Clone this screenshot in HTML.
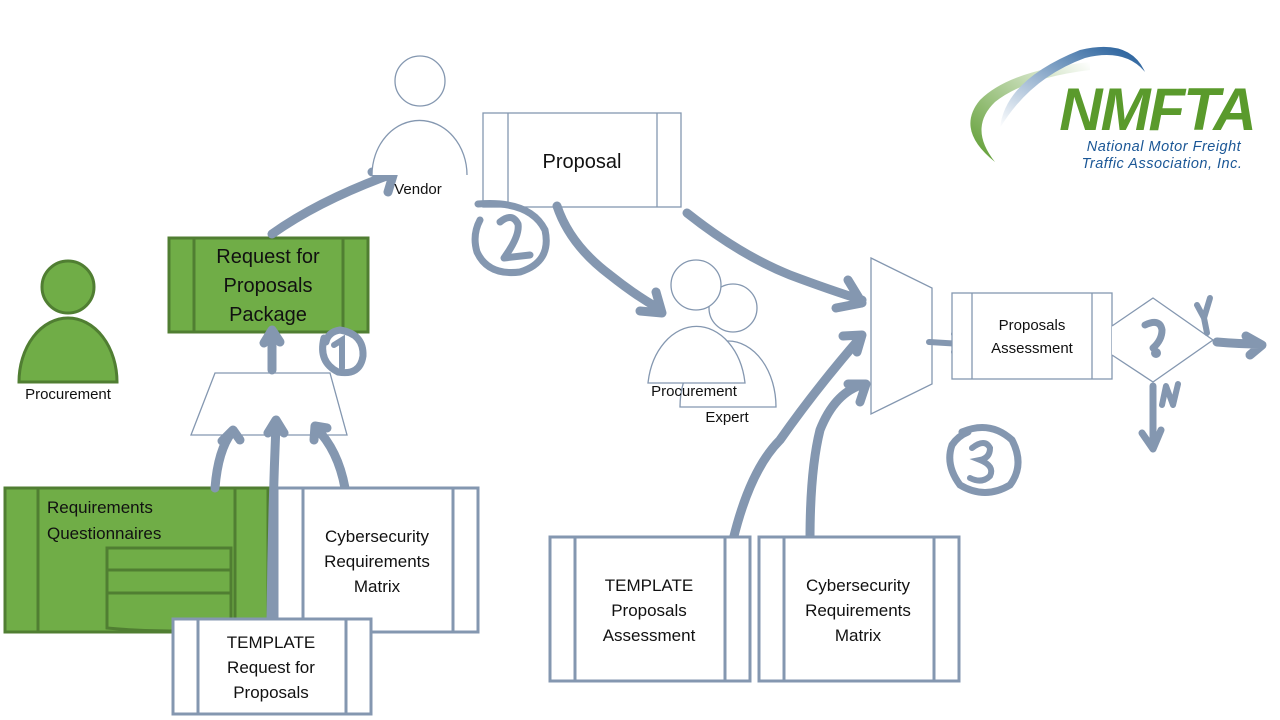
<!DOCTYPE html>
<html><head><meta charset="utf-8"><style>
html,body{margin:0;padding:0;background:#fff;}
svg{display:block;font-family:"Liberation Sans",sans-serif;}
.b{fill:#fff;stroke:#8497b0;stroke-width:1.3}
.bt{fill:#fff;stroke:#8497b0;stroke-width:3}
.g{fill:#70ad47;stroke:#507e32;stroke-width:3}
.a{fill:none;stroke:#8497b0;stroke-width:9;stroke-linecap:round;stroke-linejoin:round}
text{fill:#111;text-anchor:middle}
</style></head><body>
<svg width="1280" height="720" viewBox="0 0 1280 720">
<!-- Procurement person -->
<circle cx="68" cy="287" r="26" class="g"/>
<path d="M19,382 A49,64 0 0 1 117,382 Z" class="g"/>
<text x="68" y="399" font-size="15">Procurement</text>

<!-- RFP package -->
<rect x="169" y="238" width="199" height="94" class="g"/>
<line x1="194" y1="238" x2="194" y2="332" stroke="#507e32" stroke-width="3"/>
<line x1="343" y1="238" x2="343" y2="332" stroke="#507e32" stroke-width="3"/>
<text x="268" y="263" font-size="20">Request for</text>
<text x="268" y="292" font-size="20">Proposals</text>
<text x="268" y="321" font-size="20">Package</text>

<!-- trapezoid -->
<path d="M215,373 L330,373 L347,435 L191,435 Z" class="b"/>

<!-- Requirements questionnaires -->
<rect x="5" y="488" width="263" height="144" class="g"/>
<line x1="38" y1="488" x2="38" y2="632" stroke="#507e32" stroke-width="3"/>
<line x1="235" y1="488" x2="235" y2="632" stroke="#507e32" stroke-width="3"/>
<path d="M107,548 H231 V628 Q170,634 107,628 Z" class="g"/>
<line x1="107" y1="570" x2="231" y2="570" stroke="#507e32" stroke-width="3"/>
<line x1="107" y1="593" x2="231" y2="593" stroke="#507e32" stroke-width="3"/>
<text x="47" y="513" font-size="17" style="text-anchor:start">Requirements</text>
<text x="47" y="539" font-size="17" style="text-anchor:start">Questionnaires</text>

<!-- arrows into trapezoid -->
<path class="a" d="M215,488 Q218,450 232,432 M222,441 L233,430 L240,440"/>
<path class="a" d="M271,620 Q272,520 276,424 M268,433 L276,420 L284,433"/>
<path class="a" d="M345,488 Q338,450 316,428 M314,440 L315,426 L327,428"/>

<!-- Cybersecurity matrix left -->
<rect x="277" y="488" width="201" height="144" class="bt"/>
<line x1="303" y1="488" x2="303" y2="632" stroke="#8497b0" stroke-width="3"/>
<line x1="453" y1="488" x2="453" y2="632" stroke="#8497b0" stroke-width="3"/>
<text x="377" y="542" font-size="17">Cybersecurity</text>
<text x="377" y="567" font-size="17">Requirements</text>
<text x="377" y="592" font-size="17">Matrix</text>

<!-- TEMPLATE RFP -->
<rect x="173" y="619" width="198" height="95" class="bt"/>
<line x1="198" y1="619" x2="198" y2="714" stroke="#8497b0" stroke-width="3"/>
<line x1="346" y1="619" x2="346" y2="714" stroke="#8497b0" stroke-width="3"/>
<text x="271" y="648" font-size="17">TEMPLATE</text>
<text x="271" y="673" font-size="17">Request for</text>
<text x="271" y="698" font-size="17">Proposals</text>

<!-- arrows RFP -->
<path class="a" d="M272,370 L272,332 M264,343 L272,330 L280,342"/>
<path class="a" d="M272,234 Q320,200 392,174 M372,172 L394,172 L388,192"/>
<path d="M324,338 Q318,362 338,372 Q360,376 363,356 Q364,334 340,330 Q328,332 326,342" fill="none" stroke="#8497b0" stroke-width="7" stroke-linecap="round"/>
<path d="M334,345 L342,340 L342,368" fill="none" stroke="#8497b0" stroke-width="6" stroke-linecap="round"/>

<!-- Vendor -->
<circle cx="420" cy="81" r="25" class="b"/>
<path d="M372,175 A47,54 0 0 1 467,175" class="b"/>
<text x="418" y="194" font-size="15">Vendor</text>

<!-- Proposal -->
<rect x="483" y="113" width="198" height="94" class="b"/>
<line x1="508" y1="113" x2="508" y2="207" stroke="#8497b0" stroke-width="1.3"/>
<line x1="657" y1="113" x2="657" y2="207" stroke="#8497b0" stroke-width="1.3"/>
<text x="582" y="168" font-size="20">Proposal</text>

<!-- circled 2 -->
<path d="M478,204 Q530,200 545,230 Q552,262 520,272 Q488,276 477,252 Q472,235 480,220" fill="none" stroke="#8497b0" stroke-width="7" stroke-linecap="round"/>
<path d="M500,222 Q512,212 518,224 Q520,236 504,258 L530,255" fill="none" stroke="#8497b0" stroke-width="7" stroke-linecap="round" stroke-linejoin="round"/>

<!-- Procurement Expert -->
<circle cx="733" cy="308" r="24" class="b"/>
<path d="M680,407 A48,66 0 0 1 776,407 Z" class="b"/>
<circle cx="696" cy="285" r="25" class="b"/>
<path d="M648,383 A49,66 0 0 1 745,383 Z" class="b"/>
<text x="694" y="396" font-size="15">Procurement</text>
<text x="727" y="422" font-size="15">Expert</text>

<path class="a" d="M557,206 Q570,245 610,275 Q635,295 658,308 M640,311 L662,313 L656,292"/>
<path class="a" d="M687,213 Q740,255 790,275 Q830,290 862,300 M836,308 L862,303 L848,280"/>

<path class="a" d="M733,540 Q750,470 780,440 Q815,390 860,338 M843,336 L862,335 L857,352"/>
<path class="a" d="M810,540 Q810,470 820,430 Q835,392 864,384 M848,384 L866,384 L860,402"/>
<rect x="550" y="537" width="200" height="144" class="bt"/>
<line x1="575" y1="537" x2="575" y2="681" stroke="#8497b0" stroke-width="3"/>
<line x1="725" y1="537" x2="725" y2="681" stroke="#8497b0" stroke-width="3"/>
<text x="649" y="591" font-size="17">TEMPLATE</text>
<text x="649" y="616" font-size="17">Proposals</text>
<text x="649" y="641" font-size="17">Assessment</text>
<rect x="759" y="537" width="200" height="144" class="bt"/>
<line x1="784" y1="537" x2="784" y2="681" stroke="#8497b0" stroke-width="3"/>
<line x1="934" y1="537" x2="934" y2="681" stroke="#8497b0" stroke-width="3"/>
<text x="858" y="591" font-size="17">Cybersecurity</text>
<text x="858" y="616" font-size="17">Requirements</text>
<text x="858" y="641" font-size="17">Matrix</text>

<!-- mux -->
<path d="M871,258 L932,288 L932,384 L871,414 Z" class="b"/>
<path class="a" d="M929,342 L962,344 M954,334 L964,344 L954,352" style="stroke-width:6"/>

<!-- Proposals Assessment -->
<rect x="952" y="293" width="160" height="86" class="b"/>
<line x1="972" y1="293" x2="972" y2="379" stroke="#8497b0" stroke-width="1.3"/>
<line x1="1092" y1="293" x2="1092" y2="379" stroke="#8497b0" stroke-width="1.3"/>
<text x="1032" y="330" font-size="15">Proposals</text>
<text x="1032" y="353" font-size="15">Assessment</text>

<!-- diamond -->
<path d="M1112,326 L1153,298 L1213,340 L1153,382 L1112,355" class="b"/>
<path d="M1145,325 Q1160,318 1162,330 Q1162,340 1153,348" fill="none" stroke="#8497b0" stroke-width="7" stroke-linecap="round"/>
<circle cx="1156" cy="353" r="5" fill="#8497b0"/>
<path class="a" d="M1197,305 L1204,318 L1210,298 M1204,318 L1207,333" style="stroke-width:6"/>
<path class="a" d="M1217,342 Q1240,344 1260,344 M1246,336 L1262,345 L1250,355"/>
<path class="a" d="M1153,386 L1153,448 M1142,433 L1153,449 L1161,430" style="stroke-width:7"/>
<path class="a" d="M1162,405 L1166,386 L1173,405 L1178,384" style="stroke-width:6"/>

<!-- circled 3 -->
<path d="M962,432 Q990,420 1012,440 Q1025,465 1010,485 Q985,500 960,485 Q945,465 952,445 Q958,436 968,432" fill="none" stroke="#8497b0" stroke-width="7" stroke-linecap="round"/>
<path d="M972,448 Q985,438 990,448 Q990,458 980,460 Q995,466 990,476 Q982,484 970,478" fill="none" stroke="#8497b0" stroke-width="6" stroke-linecap="round"/>

<!-- logo -->
<defs>
<linearGradient id="lg1" x1="0" y1="1" x2="1" y2="0"><stop offset="0" stop-color="#5a9a2c"/><stop offset="1" stop-color="#ffffff"/></linearGradient>
<linearGradient id="lg2" x1="0" y1="1" x2="1" y2="0"><stop offset="0" stop-color="#ffffff"/><stop offset="1" stop-color="#1b5796"/></linearGradient>
</defs>
<path d="M1090,62 Q1010,70 980,100 Q955,130 995,162 Q968,128 995,102 Q1025,78 1090,70 Z" fill="url(#lg1)"/>
<path d="M1000,128 Q1005,80 1080,50 Q1130,38 1145,72 Q1125,48 1085,58 Q1030,78 1000,128 Z" fill="url(#lg2)"/>
<text x="1157" y="130" font-size="60" font-weight="bold" font-style="italic" style="fill:#5a9a2c;letter-spacing:-2px">NMFTA</text>
<text x="1164" y="151" font-size="14.5" font-style="italic" style="fill:#1b5796;letter-spacing:0.5px">National Motor Freight</text>
<text x="1162" y="168" font-size="14.5" font-style="italic" style="fill:#1b5796;letter-spacing:0.5px">Traffic Association, Inc.</text>
</svg>
</body></html>
